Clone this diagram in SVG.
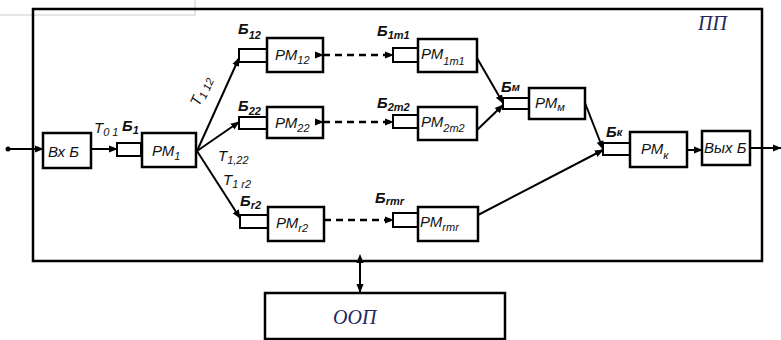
<svg xmlns="http://www.w3.org/2000/svg" width="781" height="340" viewBox="0 0 781 340">
<defs>
<marker id="ah" viewBox="0 0 10 10" refX="9" refY="5" markerWidth="9" markerHeight="9" markerUnits="userSpaceOnUse" orient="auto"><path d="M0,1 L10,5 L0,9 Z" fill="#000"/></marker>
<marker id="ahs" viewBox="0 0 10 10" refX="1" refY="5" markerWidth="9" markerHeight="9" markerUnits="userSpaceOnUse" orient="auto-start-reverse"><path d="M0,1 L10,5 L0,9 Z" fill="#000"/></marker>
</defs>
<style>
.box{fill:#fff;stroke:#000;stroke-width:2.5}
.buf{fill:#fff;stroke:#000;stroke-width:2}
.frame{fill:none;stroke:#000;stroke-width:2.5}
.ln{fill:none;stroke:#000;stroke-width:2}
.dash{fill:none;stroke:#000;stroke-width:2.5;stroke-dasharray:7 5}
text{font-family:"Liberation Sans","DejaVu Sans",sans-serif;font-style:italic;fill:#111}
.lbl{font-size:15px}
.bl{font-size:15px;font-weight:bold}
.sub{font-size:11px}
.big{font-family:"Liberation Serif","DejaVu Serif",serif;font-size:20px;fill:#22275a}
</style>
<rect width="781" height="340" fill="#fff"/>
<path d="M0,15 H195 V0" fill="none" stroke="#ddd" stroke-width="1.5"/>
<g id="frame-PP">
<rect class="frame" x="33" y="9" width="729" height="252"/>
<text class="big" x="698" y="30">ПП</text>
</g>
<g id="OOP">
<rect class="frame" x="265" y="293" width="240" height="46"/>
<text class="big" x="333" y="324">ООП</text>
</g>
<g id="VxB"><rect class="box" x="43" y="133" width="48" height="35"/><text class="lbl" x="48" y="157">Вх Б</text></g>
<g id="B1"><rect class="buf" x="117" y="143" width="24" height="13"/><text class="bl" x="122" y="131">Б<tspan class="sub" dy="3">1</tspan></text></g>
<g id="PM1"><rect class="box" x="142" y="133" width="54" height="34"/><text class="lbl" x="152" y="156">РМ<tspan class="sub" dy="4">1</tspan></text></g>
<g id="B12"><rect class="buf" x="239" y="49" width="28" height="13"/><text class="bl" x="238" y="34">Б<tspan class="sub" dy="5">12</tspan></text></g>
<g id="PM12"><rect class="box" x="267" y="38" width="56" height="34"/><text class="lbl" x="275" y="60">РМ<tspan class="sub" dy="4">12</tspan></text></g>
<g id="B1m1"><rect class="buf" x="393" y="48" width="25" height="14"/><text class="bl" x="377" y="36">Б<tspan class="sub" dy="3">1m1</tspan></text></g>
<g id="PM1m1"><rect class="box" x="418" y="39" width="59" height="33"/><text class="lbl" x="421" y="59">РМ<tspan class="sub" dy="6">1m1</tspan></text></g>
<g id="B22"><rect class="buf" x="239" y="117" width="28" height="12"/><text class="bl" x="238" y="111">Б<tspan class="sub" dy="4">22</tspan></text></g>
<g id="PM22"><rect class="box" x="267" y="107" width="56" height="31"/><text class="lbl" x="275" y="128">РМ<tspan class="sub" dy="4">22</tspan></text></g>
<g id="B2m2"><rect class="buf" x="393" y="115" width="25" height="13"/><text class="bl" x="377" y="108">Б<tspan class="sub" dy="3">2m2</tspan></text></g>
<g id="PM2m2"><rect class="box" x="418" y="107" width="59" height="33"/><text class="lbl" x="421" y="127">РМ<tspan class="sub" dy="5">2m2</tspan></text></g>
<g id="Br2"><rect class="buf" x="240" y="215" width="28" height="13"/><text class="bl" x="240" y="206">Б<tspan class="sub" dy="3">r2</tspan></text></g>
<g id="PMr2"><rect class="box" x="268" y="207" width="56" height="34"/><text class="lbl" x="276" y="228">РМ<tspan class="sub" dy="4">r2</tspan></text></g>
<g id="Brmr"><rect class="buf" x="393" y="213" width="25" height="14"/><text class="bl" x="375" y="203">Б<tspan class="sub" dy="2">rmr</tspan></text></g>
<g id="PMrmr"><rect class="box" x="418" y="207" width="60" height="34"/><text class="lbl" x="420" y="227">РМ<tspan class="sub" dy="4">rmr</tspan></text></g>
<g id="Bm"><rect class="buf" x="503" y="98" width="26" height="11"/><text class="bl" x="501" y="92">Б<tspan class="sub" dy="-1">м</tspan></text></g>
<g id="PMm"><rect class="box" x="529" y="88" width="56" height="31"/><text class="lbl" x="535" y="108">РМ<tspan class="sub" dy="3">м</tspan></text></g>
<g id="Bk"><rect class="buf" x="603" y="143" width="27" height="12"/><text class="bl" x="606" y="137">Б<tspan class="sub" dy="-1">к</tspan></text></g>
<g id="PMk"><rect class="box" x="630" y="132" width="57" height="35"/><text class="lbl" x="641" y="154">РМ<tspan class="sub" dy="5">к</tspan></text></g>
<g id="VyxB"><rect class="box" x="702" y="131" width="48" height="34"/><text class="lbl" x="704" y="153">Вых Б</text></g>
<g id="connectors">
<circle cx="8" cy="149" r="2.5" fill="#000"/>
<line class="ln" x1="8" y1="149" x2="43" y2="149" marker-end="url(#ah)"/>
<line class="ln" x1="91" y1="149" x2="117" y2="149" marker-end="url(#ah)"/>
<line class="ln" x1="197" y1="151" x2="239" y2="58" marker-end="url(#ah)"/>
<line class="ln" x1="197" y1="151" x2="239" y2="122" marker-end="url(#ah)"/>
<line class="ln" x1="197" y1="151" x2="240" y2="218" marker-end="url(#ah)"/>
<line class="dash" x1="323" y1="55" x2="393" y2="55" marker-start="url(#ah)" marker-end="url(#ah)"/>
<line class="dash" x1="323" y1="122" x2="393" y2="122" marker-start="url(#ah)" marker-end="url(#ah)"/>
<line class="dash" x1="324" y1="220" x2="393" y2="220" marker-end="url(#ah)"/>
<line class="ln" x1="477" y1="58" x2="503" y2="103" marker-end="url(#ah)"/>
<line class="ln" x1="477" y1="130" x2="503" y2="105" marker-end="url(#ah)"/>
<line class="ln" x1="585" y1="103" x2="603" y2="149" marker-end="url(#ah)"/>
<line class="ln" x1="478" y1="215" x2="603" y2="150" marker-end="url(#ah)"/>
<line class="ln" x1="687" y1="150" x2="702" y2="150" marker-end="url(#ah)"/>
<line class="ln" x1="750" y1="148" x2="781" y2="148" marker-end="url(#ah)"/>
<line class="ln" x1="360" y1="262" x2="360" y2="292" marker-start="url(#ahs)" marker-end="url(#ah)"/>
</g>
<g id="labels">
<text class="lbl" x="94" y="133">T<tspan class="sub" dy="3">0 1</tspan></text>
<text class="lbl" transform="translate(199,107) rotate(-66)">T<tspan class="sub" dy="3">1 12</tspan></text>
<text class="lbl" x="218" y="161">T<tspan class="sub" dy="3">1,22</tspan></text>
<text class="lbl" x="223" y="185">T<tspan class="sub" dy="3">1 r2</tspan></text>
</g>
</svg>
